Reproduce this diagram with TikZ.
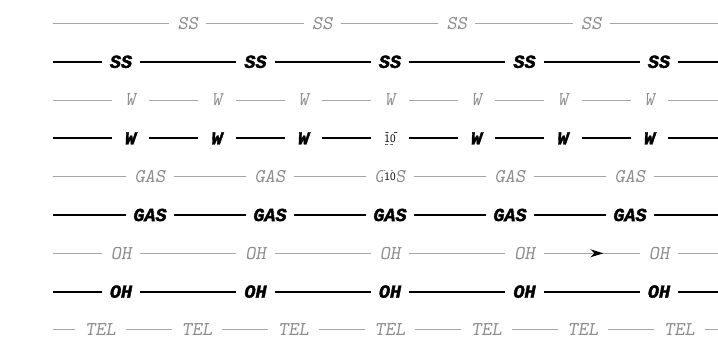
\documentclass[tikz,border=0pt]{standalone}
\usepackage{fontspec}
\newfontfamily\heavyfont{Liberation Mono}[BoldItalicFeatures={FakeBold=2}]
\usetikzlibrary{arrows.meta, decorations.markings}

\tikzset{
  grayline/.style={draw=black!35, line width=1pt},
  darkline/.style={draw=black, line width=2pt},
  graylbl/.style={text=black!45, inner xsep=0pt, font=\ttfamily\slshape\fontsize{19.5}{22}\selectfont},
  darklbl/.style={text=black, inner xsep=0pt, font=\heavyfont\bfseries\itshape\fontsize{18.5}{22}\selectfont},
  tenlbl/.style={fill=white, text=black, inner sep=1.2pt, font=\sffamily\fontsize{11.5}{13}\selectfont}
}

\begin{document}
\begin{tikzpicture}[x=1pt, y=-1pt]
    \useasboundingbox (0,0) rectangle (718,355);

    % Row 1: SS (light)
    \coordinate (ssa-s) at (53,23.5);
    \coordinate (ssa-e) at (718,23.5);
    \foreach \k in {1,...,4}
        \node[graylbl, minimum width=37pt] (ssa-\k) at ({53.25+\k*134.5},23.5) {SS};
    \foreach \a/\b in {s/1,1/2,2/3,3/4,4/e}
        \draw[grayline] (ssa-\a) -- (ssa-\b);

    % Row 2: SS (heavy)
    \coordinate (ssb-s) at (53,61.8);
    \coordinate (ssb-e) at (718,61.8);
    \foreach \k in {1,...,5}
        \node[darklbl, minimum width=38pt] (ssb-\k) at ({-13.5+\k*134.5},61.8) {SS};
    \foreach \a/\b in {s/1,1/2,2/3,3/4,4/5,5/e}
        \draw[darkline] (ssb-\a) -- (ssb-\b);

    % Row 3: W (light)
    \coordinate (wa-s) at (53,100.1);
    \coordinate (wa-e) at (718,100.1);
    \foreach \k in {1,...,7}
        \node[graylbl, minimum width=37.5pt] (wa-\k) at ({44+\k*86.5},100.1) {W};
    \foreach \a/\b in {s/1,1/2,2/3,3/4,4/5,5/6,6/7,7/e}
        \draw[grayline] (wa-\a) -- (wa-\b);

    % Row 4: W (heavy)
    \coordinate (wb-s) at (53,138.4);
    \coordinate (wb-e) at (718,138.4);
    \foreach \k in {1,...,7}
        \node[darklbl, minimum width=37.5pt] (wb-\k) at ({44+\k*86.5},138.4) {W};
    \foreach \a/\b in {s/1,1/2,2/3,3/4,4/5,5/6,6/7,7/e}
        \draw[darkline] (wb-\a) -- (wb-\b);
    \node[tenlbl] (wb-ten) at (wb-4) {10};

    % Row 5: GAS (light)
    \coordinate (gasa-s) at (53,176.7);
    \coordinate (gasa-e) at (718,176.7);
    \foreach \k in {1,...,5}
        \node[graylbl, minimum width=47pt] (gasa-\k) at ({30+\k*120},176.7) {GAS};
    \foreach \a/\b in {s/1,1/2,2/3,3/4,4/5,5/e}
        \draw[grayline] (gasa-\a) -- (gasa-\b);
    \node[tenlbl] (gasa-ten) at (gasa-3) {10};

    % Row 6: GAS (heavy)
    \coordinate (gasb-s) at (53,215);
    \coordinate (gasb-e) at (718,215);
    \foreach \k in {1,...,5}
        \node[darklbl, minimum width=47pt] (gasb-\k) at ({30+\k*120},215) {GAS};
    \foreach \a/\b in {s/1,1/2,2/3,3/4,4/5,5/e}
        \draw[darkline] (gasb-\a) -- (gasb-\b);

    % Row 7: OH (light), one segment carries an arrow
    \coordinate (oha-s) at (53,253.3);
    \coordinate (oha-e) at (718,253.3);
    \foreach \k in {1,...,5}
        \node[graylbl, minimum width=38pt] (oha-\k) at ({-13.5+\k*134.5},253.3) {OH};
    \foreach \a/\b in {s/1,1/2,2/3,3/4,5/e}
        \draw[grayline] (oha-\a) -- (oha-\b);
    \draw[grayline, postaction={decorate}, decoration={markings,
        mark=at position 0.62 with {\arrow[black]{Stealth[length=13pt,width=8pt]}}}]
        (oha-4) -- (oha-5);

    % Row 8: OH (heavy)
    \coordinate (ohb-s) at (53,291.6);
    \coordinate (ohb-e) at (718,291.6);
    \foreach \k in {1,...,5}
        \node[darklbl, minimum width=38pt] (ohb-\k) at ({-13.5+\k*134.5},291.6) {OH};
    \foreach \a/\b in {s/1,1/2,2/3,3/4,4/5,5/e}
        \draw[darkline] (ohb-\a) -- (ohb-\b);

    % Row 9: TEL (light)
    \coordinate (tel-s) at (53,329.9);
    \coordinate (tel-e) at (718,329.9);
    \foreach \k in {1,...,7}
        \node[graylbl, minimum width=50pt] (tel-\k) at ({4+\k*96.5},329.9) {TEL};
    \foreach \a/\b in {s/1,1/2,2/3,3/4,4/5,5/6,6/7,7/e}
        \draw[grayline] (tel-\a) -- (tel-\b);
\end{tikzpicture}
\end{document}
